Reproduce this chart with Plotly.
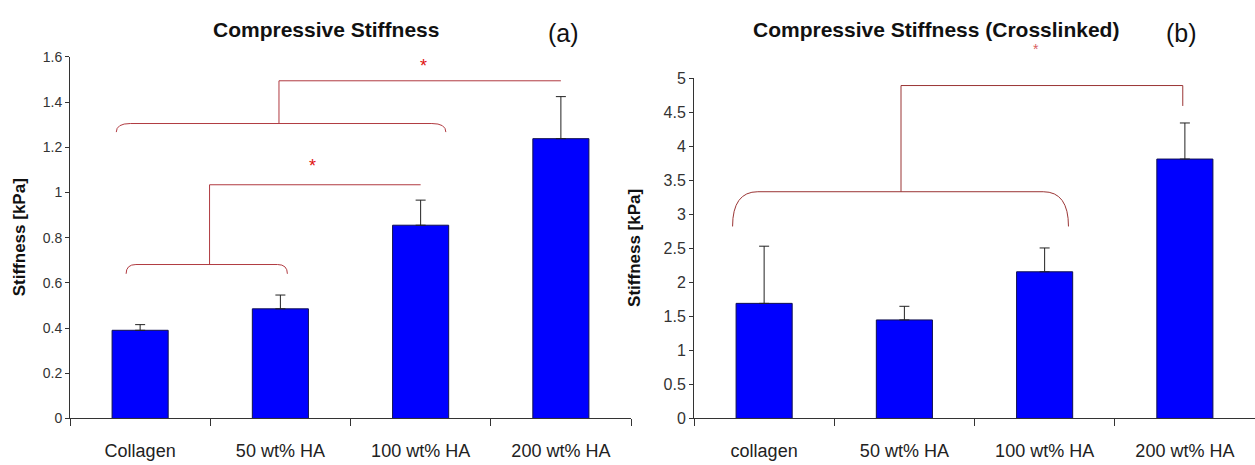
import plotly.graph_objects as go

# ---------------- data ----------------
cats_a = ["Collagen", "50 wt% HA", "100 wt% HA", "200 wt% HA"]
vals_a = [0.39, 0.485, 0.855, 1.238]
err_a = [0.025, 0.061, 0.111, 0.186]

cats_b = ["collagen", "50 wt% HA", "100 wt% HA", "200 wt% HA"]
vals_b = [1.69, 1.447, 2.154, 3.81]
err_b = [0.84, 0.20, 0.35, 0.53]

yticks_a = [0, 0.2, 0.4, 0.6, 0.8, 1, 1.2, 1.4, 1.6]
yticks_b = [0, 0.5, 1, 1.5, 2, 2.5, 3, 3.5, 4, 4.5, 5]
yrange_a = [0, 1.6]
yrange_b = [0, 5]

# significance brackets (category-index units, value units)
# brace: x0, x1, y_flat, y_end, curl_width
braces_a = [(-0.10, 1.05, 0.681, 0.640, 0.07), (-0.17, 2.18, 1.305, 1.267, 0.10)]
# stem: x_from, y_from, y_to, x_to, y_drop
stems_a = [(0.495, 0.681, 1.034, 2.0, None), (0.99, 1.305, 1.494, 3.0, None)]
stars_a = [(1.23, 1.115), (2.02, 1.56)]

braces_b = [(-0.225, 2.17, 3.33, 2.82, 0.18)]
stems_b = [(0.976, 3.33, 4.89, 2.985, 4.59)]
stars_b = [(1.94, 5.42)]

W, H = 1255, 465
FONT = "Liberation Sans, Arial, sans-serif"
BAR = "#0000FF"
BAR_LINE = "#101050"
BRK_A = "#B03A40"
BRK_B = "#9A3535"

fig = go.Figure()
idx = list(range(4))
fig.add_trace(go.Bar(
    x=idx, y=vals_a, width=0.4, marker=dict(color=BAR, line=dict(color=BAR_LINE, width=1)),
    error_y=dict(type="data", symmetric=False, array=err_a, arrayminus=[0] * 4,
                 color="#222", thickness=1, width=5),
    xaxis="x", yaxis="y", showlegend=False, hoverinfo="skip"))
fig.add_trace(go.Bar(
    x=idx, y=vals_b, width=0.4, marker=dict(color=BAR, line=dict(color=BAR_LINE, width=1)),
    error_y=dict(type="data", symmetric=False, array=err_b, arrayminus=[0] * 4,
                 color="#222", thickness=1, width=5),
    xaxis="x2", yaxis="y2", showlegend=False, hoverinfo="skip"))

def px_x(p):
    return p / W

def px_y(p):
    return 1 - p / H

xdom_a = [px_x(70), px_x(631)]
xdom_b = [px_x(694), 1.0]
ydom_a = [px_y(426), px_y(50.7)]
ydom_b = [px_y(426), px_y(72.7)]

def xaxis(dom, labels, anchor):
    return dict(domain=dom, range=[-0.5, 3.5], anchor=anchor, showline=True,
                linecolor="#333", linewidth=1, showgrid=False, zeroline=False,
                tickvals=idx, ticktext=labels, ticks="", ticklabelstandoff=16,
                tickfont=dict(family=FONT, size=18, color="#222"),
                minor=dict(tickvals=[-0.5, 0.5, 1.5, 2.5, 3.5], ticks="outside",
                           ticklen=7, tickcolor="#333", tickwidth=1),
                fixedrange=True)

def yaxis(dom, rng, ticks, size, anchor):
    return dict(domain=dom, range=rng, anchor=anchor, showline=True, linecolor="#333",
                linewidth=1, showgrid=False, zeroline=False, tickvals=ticks,
                ticks="outside", ticklen=4, tickcolor="#333",
                tickfont=dict(family=FONT, size=size, color="#333"), fixedrange=True)

fig.update_layout(
    width=W, height=H, margin=dict(l=0, r=0, t=0, b=0),
    paper_bgcolor="white", plot_bgcolor="white", bargap=0.6,
    xaxis=xaxis(xdom_a, cats_a, "y"),
    yaxis=yaxis(ydom_a, yrange_a, yticks_a, 14, "x"),
    xaxis2=xaxis(xdom_b, cats_b, "y2"),
    yaxis2=yaxis(ydom_b, yrange_b, yticks_b, 16, "x2"),
)

def add_brackets(braces, stems, stars, xr, yr, yrng, color, star_color, star_size):
    for (x0, x1, yf, ye, cw) in braces:
        path = (f"M {x0},{ye} Q {x0},{yf} {x0 + cw},{yf} L {x1 - cw},{yf} "
                f"Q {x1},{yf} {x1},{ye}")
        fig.add_shape(type="path", path=path, xref=xr, yref=yr,
                      line=dict(color=color, width=1))
    for (xf, yf, yt, xt, yd) in stems:
        path = f"M {xf},{yf} L {xf},{yt} L {xt},{yt}"
        if yd is not None:
            path += f" L {xt},{yd}"
        fig.add_shape(type="path", path=path, xref=xr, yref=yr,
                      line=dict(color=color, width=1))
    for (sx, sy) in stars:
        # place in axis-domain units so stars above the axis range still show
        fig.add_annotation(x=(sx + 0.5) / 4, y=(sy - yrng[0]) / (yrng[1] - yrng[0]),
                           xref=xr + " domain", yref=yr + " domain", text="*",
                           showarrow=False,
                           font=dict(family=FONT, size=star_size, color=star_color),
                           yanchor="middle", xanchor="center")

add_brackets(braces_a, stems_a, stars_a, "x", "y", yrange_a, BRK_A, "#E01010", 18)
add_brackets(braces_b, stems_b, stars_b, "x2", "y2", yrange_b, BRK_B, "#D86060", 14)

def ann(text, x, y, size, bold=False, angle=0):
    fig.add_annotation(x=px_x(x), y=px_y(y), xref="paper", yref="paper",
                       text=f"<b>{text}</b>" if bold else text, showarrow=False,
                       textangle=angle, xanchor="center", yanchor="middle",
                       font=dict(family=FONT, size=size, color="#111"))

ann("Compressive Stiffness", 326, 22, 21, bold=True)
ann("(a)", 563, 26, 25)
ann("Compressive Stiffness (Crosslinked)", 936, 22, 21, bold=True)
ann("(b)", 1181, 26, 25)
ann("Stiffness [kPa]", 19, 238, 17, bold=True, angle=-90)
ann("Stiffness [kPa]", 635, 249, 17, bold=True, angle=-90)

fig.write_html(
    "out.html",
    config={"displayModeBar": False},
    post_script="document.body.style.margin='0';document.body.style.overflow='hidden';",
)
